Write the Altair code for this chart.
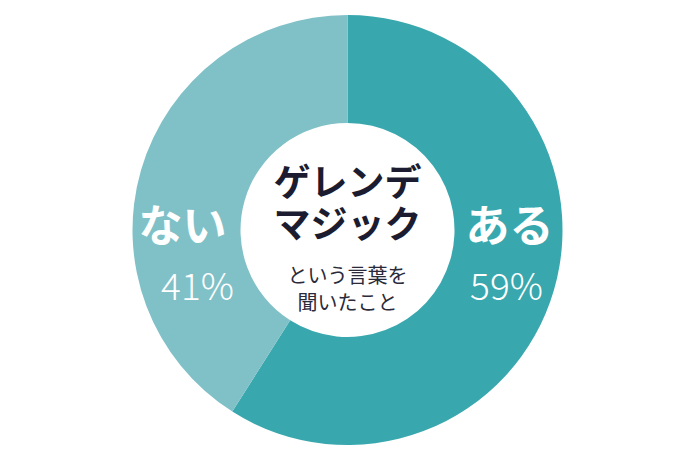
import altair as alt
import pandas as pd

# data
categories = ["ある", "ない"]
values = [59, 41]
order_idx = [0, 1]
colors = ["#39a8ae", "#80c1c8"]

title_lines = ["ゲレンデ", "マジック"]
sub_lines = ["という言葉を", "聞いたこと"]

FONT = "Noto Sans CJK JP"
W, H = 679, 444
CX, CY = W / 2, H / 2

df = pd.DataFrame({"cat": categories, "val": values, "ord": order_idx})

arc = alt.Chart(df).mark_arc(outerRadius=215, innerRadius=107).encode(
    theta=alt.Theta("val:Q", stack=True),
    order=alt.Order("ord:Q"),
    color=alt.Color("cat:N", scale=alt.Scale(domain=categories, range=colors), legend=None),
)

layers = [arc]

# slice labels (name + percent), placed to the left/right of the hole
label_dx = {"ある": 162, "ない": -165}
pct_dx = {"ある": 159, "ない": -150}
for c, v in zip(categories, values):
    layers.append(
        alt.Chart(pd.DataFrame({"t": [c]})).mark_text(
            font=FONT, fontSize=44, fontWeight="bold", color="white", baseline="middle", align="center"
        ).encode(text="t:N", x=alt.value(CX + label_dx[c]), y=alt.value(CY - 1))
    )
    layers.append(
        alt.Chart(pd.DataFrame({"t": [f"{v}%"]})).mark_text(
            font=FONT, fontSize=37, fontWeight=300, color="white", baseline="alphabetic", align="center"
        ).encode(text="t:N", x=alt.value(CX + pct_dx[c]), y=alt.value(CY + 70))
    )

# center texts
for i, t in enumerate(title_lines):
    layers.append(
        alt.Chart(pd.DataFrame({"t": [t]})).mark_text(
            font=FONT, fontSize=37, fontWeight="bold", color="#1c1c30", baseline="middle", align="center"
        ).encode(text="t:N", x=alt.value(CX), y=alt.value(CY - 45 + i * 42))
    )
for i, t in enumerate(sub_lines):
    layers.append(
        alt.Chart(pd.DataFrame({"t": [t]})).mark_text(
            font=FONT, fontSize=20, color="#2a2a3a", baseline="middle", align="center"
        ).encode(text="t:N", x=alt.value(CX), y=alt.value(CY + 47 + i * 27))
    )

chart = alt.layer(*layers).properties(
    width=W, height=H, padding=0,
    autosize=alt.AutoSizeParams(type="fit", contains="padding"),
).configure_view(stroke=None)

chart.save("out.html", embed_options={"renderer": "svg", "actions": False})
